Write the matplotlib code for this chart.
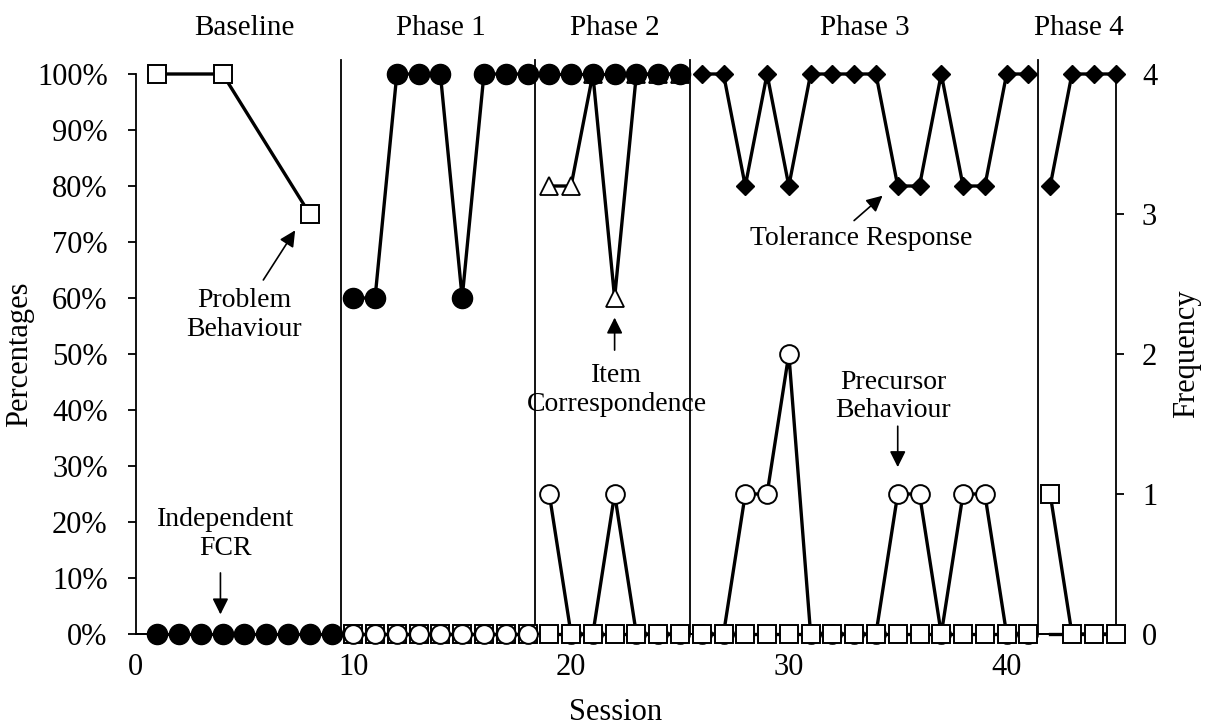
import matplotlib.pyplot as plt

plt.rcParams['font.family'] = ['Liberation Serif', 'DejaVu Serif']
plt.rcParams['font.size'] = 20

# -------------------------------------------------------------------
# data
# -------------------------------------------------------------------
# percentages (left axis)
fcr_base_x = [1, 2, 3, 4, 5, 6, 7, 8, 9]
fcr_base = [0, 0, 0, 0, 0, 0, 0, 0, 0]
fcr_p1_x = [10, 11, 12, 13, 14, 15, 16, 17, 18]
fcr_p1 = [60, 60, 100, 100, 100, 60, 100, 100, 100]
fcr_p2_x = [19, 20, 21, 22, 23, 24, 25]
fcr_p2 = [100, 100, 100, 100, 100, 100, 100]

item_x = [19, 20, 21, 22, 23, 24, 25]
item_corr = [80, 80, 100, 60, 100, 100, 100]

tol_p3_x = [26, 27, 28, 29, 30, 31, 32, 33, 34, 35, 36, 37, 38, 39, 40, 41]
tol_p3 = [100, 100, 80, 100, 80, 100, 100, 100, 100, 80, 80, 100, 80, 80, 100, 100]
tol_p4_x = [42, 43, 44, 45]
tol_p4 = [80, 100, 100, 100]

# frequencies (right axis)
prob_base_x = [1, 4, 8]
prob_base = [4, 4, 3]
prob_p1_x = [10, 11, 12, 13, 14, 15, 16, 17, 18]
prob_p1 = [0, 0, 0, 0, 0, 0, 0, 0, 0]
prob_p2_x = [19, 20, 21, 22, 23, 24, 25]
prob_p2 = [0, 0, 0, 0, 0, 0, 0]
prob_p3_x = [26, 27, 28, 29, 30, 31, 32, 33, 34, 35, 36, 37, 38, 39, 40, 41]
prob_p3 = [0, 0, 0, 0, 0, 0, 0, 0, 0, 0, 0, 0, 0, 0, 0, 0]
prob_p4_x = [42, 43, 44, 45]
prob_p4 = [1, 0, 0, 0]

prec_p1_x = [10, 11, 12, 13, 14, 15, 16, 17, 18]
prec_p1 = [0, 0, 0, 0, 0, 0, 0, 0, 0]
prec_p2_x = [19, 20, 21, 22, 23, 24, 25]
prec_p2 = [1, 0, 0, 1, 0, 0, 0]
prec_p3_x = [26, 27, 28, 29, 30, 31, 32, 33, 34, 35, 36, 37, 38, 39, 40, 41]
prec_p3 = [0, 0, 1, 1, 2, 0, 0, 0, 0, 1, 1, 0, 1, 1, 0, 0]
prec_p4_x = [42, 43, 44, 45]
prec_p4 = [0, 0, 0, 0]

phase_lines = [9.45, 18.35, 25.45, 41.45]
phase_names = ["Baseline", "Phase 1", "Phase 2", "Phase 3", "Phase 4"]
phase_centers = [5, 14, 22, 33.5, 43.3]

x_ticks = [0, 10, 20, 30, 40]
pct_ticks = [0, 10, 20, 30, 40, 50, 60, 70, 80, 90, 100]
freq_ticks = [0, 1, 2, 3, 4]

# -------------------------------------------------------------------
# figure
# -------------------------------------------------------------------
fig = plt.figure(figsize=(12.1, 7.25), dpi=100)
ax = fig.add_axes([135.5 / 1210, 1 - 634 / 725, 980 / 1210, 560 / 725])
ax.set_xlim(0, 45)
ax.set_ylim(0, 100)
ax2 = ax.twinx()
ax2.set_ylim(0, 4)

LW = 2.4
line_kw = dict(color="black", lw=LW, clip_on=False)

# phase change lines
for xp in phase_lines:
    ax.plot([xp, xp], [0, 102.5], color="black", lw=1.3, clip_on=False, zorder=1)
for name, xc in zip(phase_names, phase_centers):
    ax.text(xc, 108.2, name, ha="center", va="center", fontsize=21)

# percentage series
fill_circle = dict(marker="o", ms=14.5, mfc="black", mec="black", **line_kw)
ax.plot(fcr_base_x, fcr_base, zorder=5, **fill_circle)
ax.plot(fcr_p1_x, fcr_p1, zorder=5, **fill_circle)
ax.plot(item_x, item_corr, marker="^", ms=13.5, mfc="white", mec="black",
        mew=1.3, zorder=4, **line_kw)
ax.plot(fcr_p2_x, fcr_p2, zorder=5, **fill_circle)
diamond = dict(marker="D", ms=9.5, mfc="black", mec="black", **line_kw)
ax.plot(tol_p3_x, tol_p3, zorder=5, **diamond)
ax.plot(tol_p4_x, tol_p4, zorder=5, **diamond)

# frequency series
square = dict(marker="s", ms=12.5, mfc="white", mec="black", mew=1.4, **line_kw)
open_circle = dict(marker="o", ms=13.5, mfc="white", mec="black", mew=1.4, **line_kw)
ax2.plot(prob_base_x, prob_base, zorder=5, **square)
# phase 1: circles drawn over squares
ax2.plot(prob_p1_x, prob_p1, zorder=4, **square)
ax2.plot(prec_p1_x, prec_p1, zorder=5, **open_circle)
# later phases: squares over circles
ax2.plot(prec_p2_x, prec_p2, zorder=4, **open_circle)
ax2.plot(prob_p2_x, prob_p2, zorder=5, **square)
ax2.plot(prec_p3_x, prec_p3, zorder=4, **open_circle)
ax2.plot(prob_p3_x, prob_p3, zorder=5, **square)
ax2.plot(prec_p4_x, prec_p4, color="black", lw=LW, zorder=3, clip_on=False)
ax2.plot(prob_p4_x, prob_p4, zorder=5, **square)

# annotations
arrow = dict(arrowstyle="-|>", color="black", lw=1.2, mutation_scale=24)
ax.annotate("", xy=(7.4, 72.5), xytext=(5.8, 62.8), arrowprops=arrow)
ax.text(5.0, 57.0, "Problem\nBehaviour", ha="center", va="center")

ax.annotate("", xy=(3.9, 3.0), xytext=(3.9, 11.4), arrowprops=arrow)
ax.text(4.15, 17.8, "Independent\nFCR", ha="center", va="center")

ax.annotate("", xy=(22, 57.0), xytext=(22, 50.2), arrowprops=arrow)
ax.text(22.1, 43.5, "Item\nCorrespondence", ha="center", va="center")

ax.annotate("", xy=(34.4, 78.6), xytext=(32.9, 73.5), arrowprops=arrow)
ax.text(33.3, 70.6, "Tolerance Response", ha="center", va="center")

ax.annotate("", xy=(35, 29.3), xytext=(35, 37.6), arrowprops=arrow)
ax.text(34.8, 42.4, "Precursor\nBehaviour", ha="center", va="center")

# axes styling
for a in (ax, ax2):
    a.spines["top"].set_visible(False)
    a.spines["bottom"].set_linewidth(1.3)
ax.spines["right"].set_visible(False)
ax.spines["left"].set_linewidth(1.3)
ax2.spines["left"].set_visible(False)
ax2.spines["right"].set_linewidth(1.3)

ax.set_xticks(x_ticks)
ax.set_xticklabels([str(v) for v in x_ticks])
ax.tick_params(axis="x", length=0, pad=14, labelsize=22)
ax.set_yticks(pct_ticks)
ax.set_yticklabels([f"{v}%" for v in pct_ticks])
ax.tick_params(axis="y", direction="out", length=6, width=1.3, pad=14, labelsize=22)
ax2.set_yticks(freq_ticks)
ax2.set_yticklabels([str(v) for v in freq_ticks])
ax2.tick_params(axis="y", direction="out", length=6, width=1.3, pad=13, labelsize=22)

ax.set_xlabel("Session", fontsize=22)
ax.xaxis.set_label_coords(0.49, -0.115)
ax.set_ylabel("Percentages", fontsize=22)
ax.yaxis.set_label_coords(-0.103, 0.5)
ax2.set_ylabel("Frequency", fontsize=22)
ax2.yaxis.set_label_coords(1.058, 0.5)

fig.savefig("out.png", dpi=100)
